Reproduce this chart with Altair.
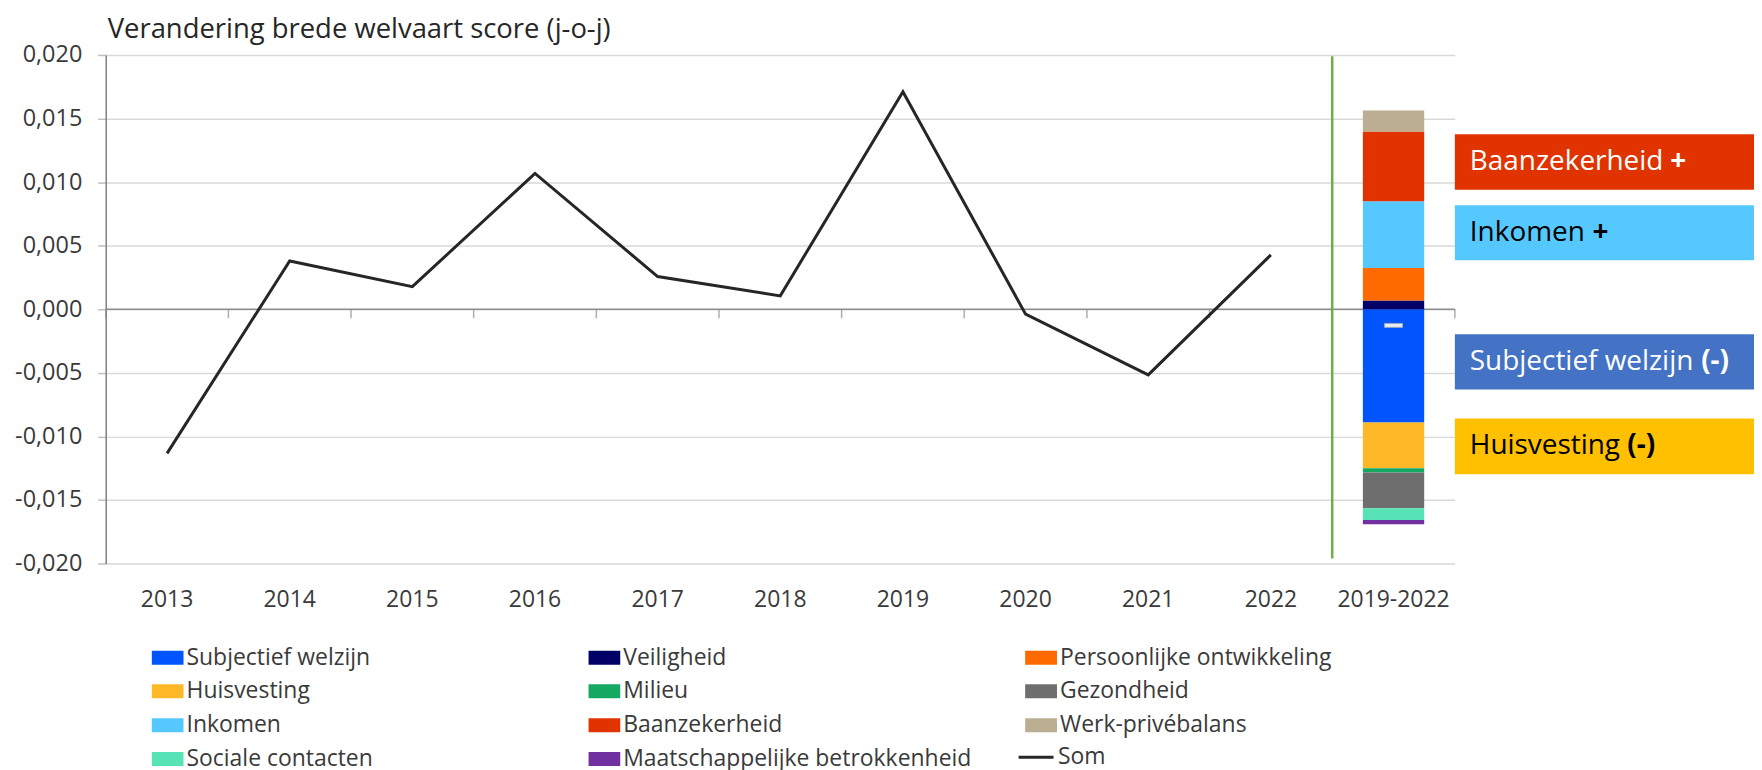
import altair as alt
import pandas as pd

# ---------------- data ----------------
years = ["2013", "2014", "2015", "2016", "2017", "2018", "2019", "2020", "2021", "2022"]
som = [-0.01134, 0.00380, 0.00178, 0.01068, 0.00257, 0.00105, 0.01711, -0.00039, -0.00516, 0.00428]
period = "2019-2022"
categories = years + [period]

components = ["Subjectief welzijn", "Veiligheid", "Persoonlijke ontwikkeling",
              "Huisvesting", "Milieu", "Gezondheid",
              "Inkomen", "Baanzekerheid", "Werk-privébalans",
              "Sociale contacten", "Maatschappelijke betrokkenheid"]
contrib = [-0.00890, 0.00068, 0.00257,
           -0.00361, -0.00034, -0.00280,
           0.00524, 0.00550, 0.00165,
           -0.00092, -0.00034]
comp_colors = ["#0055FF", "#000066", "#FF6A00",
               "#FDB827", "#14A862", "#6E6E6E",
               "#55C8FF", "#E03300", "#BCAE92",
               "#57E3B5", "#7030A0"]
som_period = -0.00127

y_ticks = [-0.020, -0.015, -0.010, -0.005, 0.0, 0.005, 0.010, 0.015, 0.020]

annot_labels = ["Baanzekerheid", "Inkomen", "Subjectief welzijn", "Huisvesting"]
annot_suffix = ["+", "+", "(-)", "(-)"]
annot_top = [0.01376, 0.00818, -0.00197, -0.00860]
annot_bottom = [0.00940, 0.00385, -0.00632, -0.01297]
annot_fill = ["#E03300", "#55C8FF", "#4472C4", "#FFC000"]
annot_text = ["#FFFFFF", "#000000", "#FFFFFF", "#000000"]

divider_top, divider_bottom = 0.0199, -0.0196

# ---------------- tables ----------------
df_line = pd.DataFrame({"cat": years, "som": som, "series": "Som"})
df_bar = pd.DataFrame({"cat": period, "component": components, "value": contrib,
                       "idx": list(range(len(components)))})
df_period = pd.DataFrame({"cat": [period], "som": [som_period]})
df_zero = pd.DataFrame({"v": [0.0]})
df_ticks = pd.DataFrame({"cat": categories})
df_div = pd.DataFrame({"cat": [period], "top": [divider_top], "bottom": [divider_bottom]})
df_ann = pd.DataFrame({"label": annot_labels, "suffix": annot_suffix, "top": annot_top,
                       "bottom": annot_bottom, "fill": annot_fill, "tcol": annot_text})

# ---------------- styling ----------------
FONT = "Open Sans"
W, H = 1353, 510
BOX_W = 300
TXT = "#3A3A3A"

xscale = alt.Scale(domain=categories, paddingInner=0, paddingOuter=0)
yscale = alt.Scale(domain=[-0.02, 0.02], nice=False, zero=False)

xaxis = alt.Axis(labelFontSize=23, labelFont=FONT, labelColor=TXT, domain=False, ticks=False,
                 grid=False, labelPadding=25, labelAngle=0, title=None)
yaxis = alt.Axis(values=y_ticks,
                 labelExpr="(datum.value < -1e-9 ? '-' : '') + replace(format(abs(datum.value), '.3f'), '.', ',')",
                 grid=True, gridColor="#D9D9D9", gridWidth=1.5,
                 domainColor="#7F7F7F", domainWidth=1.5,
                 tickColor="#BFBFBF", tickSize=8, tickWidth=1.5,
                 labelFontSize=23.5, labelFont=FONT, labelColor=TXT, labelPadding=16, title=None)


def X(field="cat:N", **kw):
    return alt.X(field, scale=xscale, axis=xaxis, **kw)


def Y(field, **kw):
    return alt.Y(field, scale=yscale, axis=yaxis, **kw)


rect_symbol = "M-1,-0.44L1,-0.44L1,0.44L-1,0.44Z"

bars = alt.Chart(df_bar).mark_bar(width=alt.RelativeBandSize(0.5)).encode(
    x=X(),
    y=Y("value:Q", stack="zero"),
    color=alt.Color("component:N", scale=alt.Scale(domain=components, range=comp_colors),
                    legend=alt.Legend(title=None, orient="none", legendX=46, legendY=587.5,
                                      direction="horizontal", columns=3, gridAlign="all",
                                      columnPadding=53, rowPadding=0, clipHeight=33.3,
                                      symbolType=rect_symbol, symbolSize=1024, symbolStrokeWidth=0,
                                      symbolOpacity=1, labelFontSize=23, labelFont=FONT,
                                      labelColor=TXT, labelOffset=3, labelLimit=500, padding=0)),
    order=alt.Order("idx:Q"),
)

zero_line = alt.Chart(df_zero).mark_rule(color="#8C8C8C", strokeWidth=1.5).encode(y=Y("v:Q"))

band_ticks = alt.Chart(df_ticks).mark_tick(orient="vertical", size=9, thickness=1.5,
                                           yOffset=4.5, color="#8C8C8C").encode(
    x=X(bandPosition=0), y=Y("zero:Q")).transform_calculate(zero="0")
end_tick = alt.Chart(df_div).mark_tick(orient="vertical", size=9, thickness=1.5,
                                       yOffset=4.5, color="#8C8C8C").encode(
    x=X(bandPosition=1), y=Y("zero:Q")).transform_calculate(zero="0")

line = alt.Chart(df_line).mark_line(strokeWidth=3).encode(
    x=X(),
    y=Y("som:Q"),
    stroke=alt.Stroke("series:N", scale=alt.Scale(domain=["Som"], range=["#262626"]),
                      legend=alt.Legend(title=None, orient="none", legendX=914, legendY=687.7,
                                        clipHeight=33.3,
                                        symbolType="stroke", symbolSize=1225, symbolStrokeWidth=3,
                                        labelFontSize=23, labelFont=FONT, labelColor=TXT,
                                        labelOffset=3, padding=0)),
)

period_mark = alt.Chart(df_period).mark_tick(size=18, thickness=4, fill="#E8ECF4",
                                              stroke="#9AA6BA", strokeWidth=1, opacity=1).encode(
    x=X(), y=Y("som:Q"))

divider = alt.Chart(df_div).mark_rule(color="#70AD47", strokeWidth=2.5).encode(
    x=X(bandPosition=0), y=Y("top:Q"), y2="bottom:Q")

boxes = alt.Chart(df_ann).mark_rect().encode(
    x=alt.value(W), x2=alt.value(W + BOX_W),
    y=Y("top:Q"), y2="bottom:Q",
    color=alt.Color("fill:N", scale=None))

box_text = alt.Chart(df_ann).mark_text(align="left", baseline="middle", fontSize=28, font=FONT).encode(
    x=alt.value(W + 15), y=Y("mid:Q"), text="label:N",
    color=alt.Color("tcol:N", scale=None)).transform_calculate(mid="(datum.top + datum.bottom) / 2")

suffix_dx = [201, 123, 232, 158]
suffix_layers = []
for lab, dx in zip(annot_labels, suffix_dx):
    suffix_layers.append(
        alt.Chart(df_ann).mark_text(align="left", baseline="middle", fontSize=28, font=FONT,
                                    fontWeight="bold", dx=dx).encode(
            x=alt.value(W + 15), y=Y("mid:Q"), text="suffix:N",
            color=alt.Color("tcol:N", scale=None))
        .transform_filter(alt.datum.label == lab)
        .transform_calculate(mid="(datum.top + datum.bottom) / 2"))

chart = alt.layer(zero_line, band_ticks, end_tick, bars, period_mark, line, divider,
                  boxes, box_text, *suffix_layers).properties(
    width=W, height=H,
    padding={"left": 6, "top": 6, "right": 0, "bottom": 0},
    title=alt.Title("Verandering brede welvaart score (j-o-j)", anchor="start", frame="group",
                    fontSize=27.5, font=FONT, fontWeight="normal", color="#262626", offset=0, dx=2),
).resolve_scale(color="independent").configure_view(stroke=None)

chart.save("out.html", embed_options={"renderer": "svg", "actions": False})
